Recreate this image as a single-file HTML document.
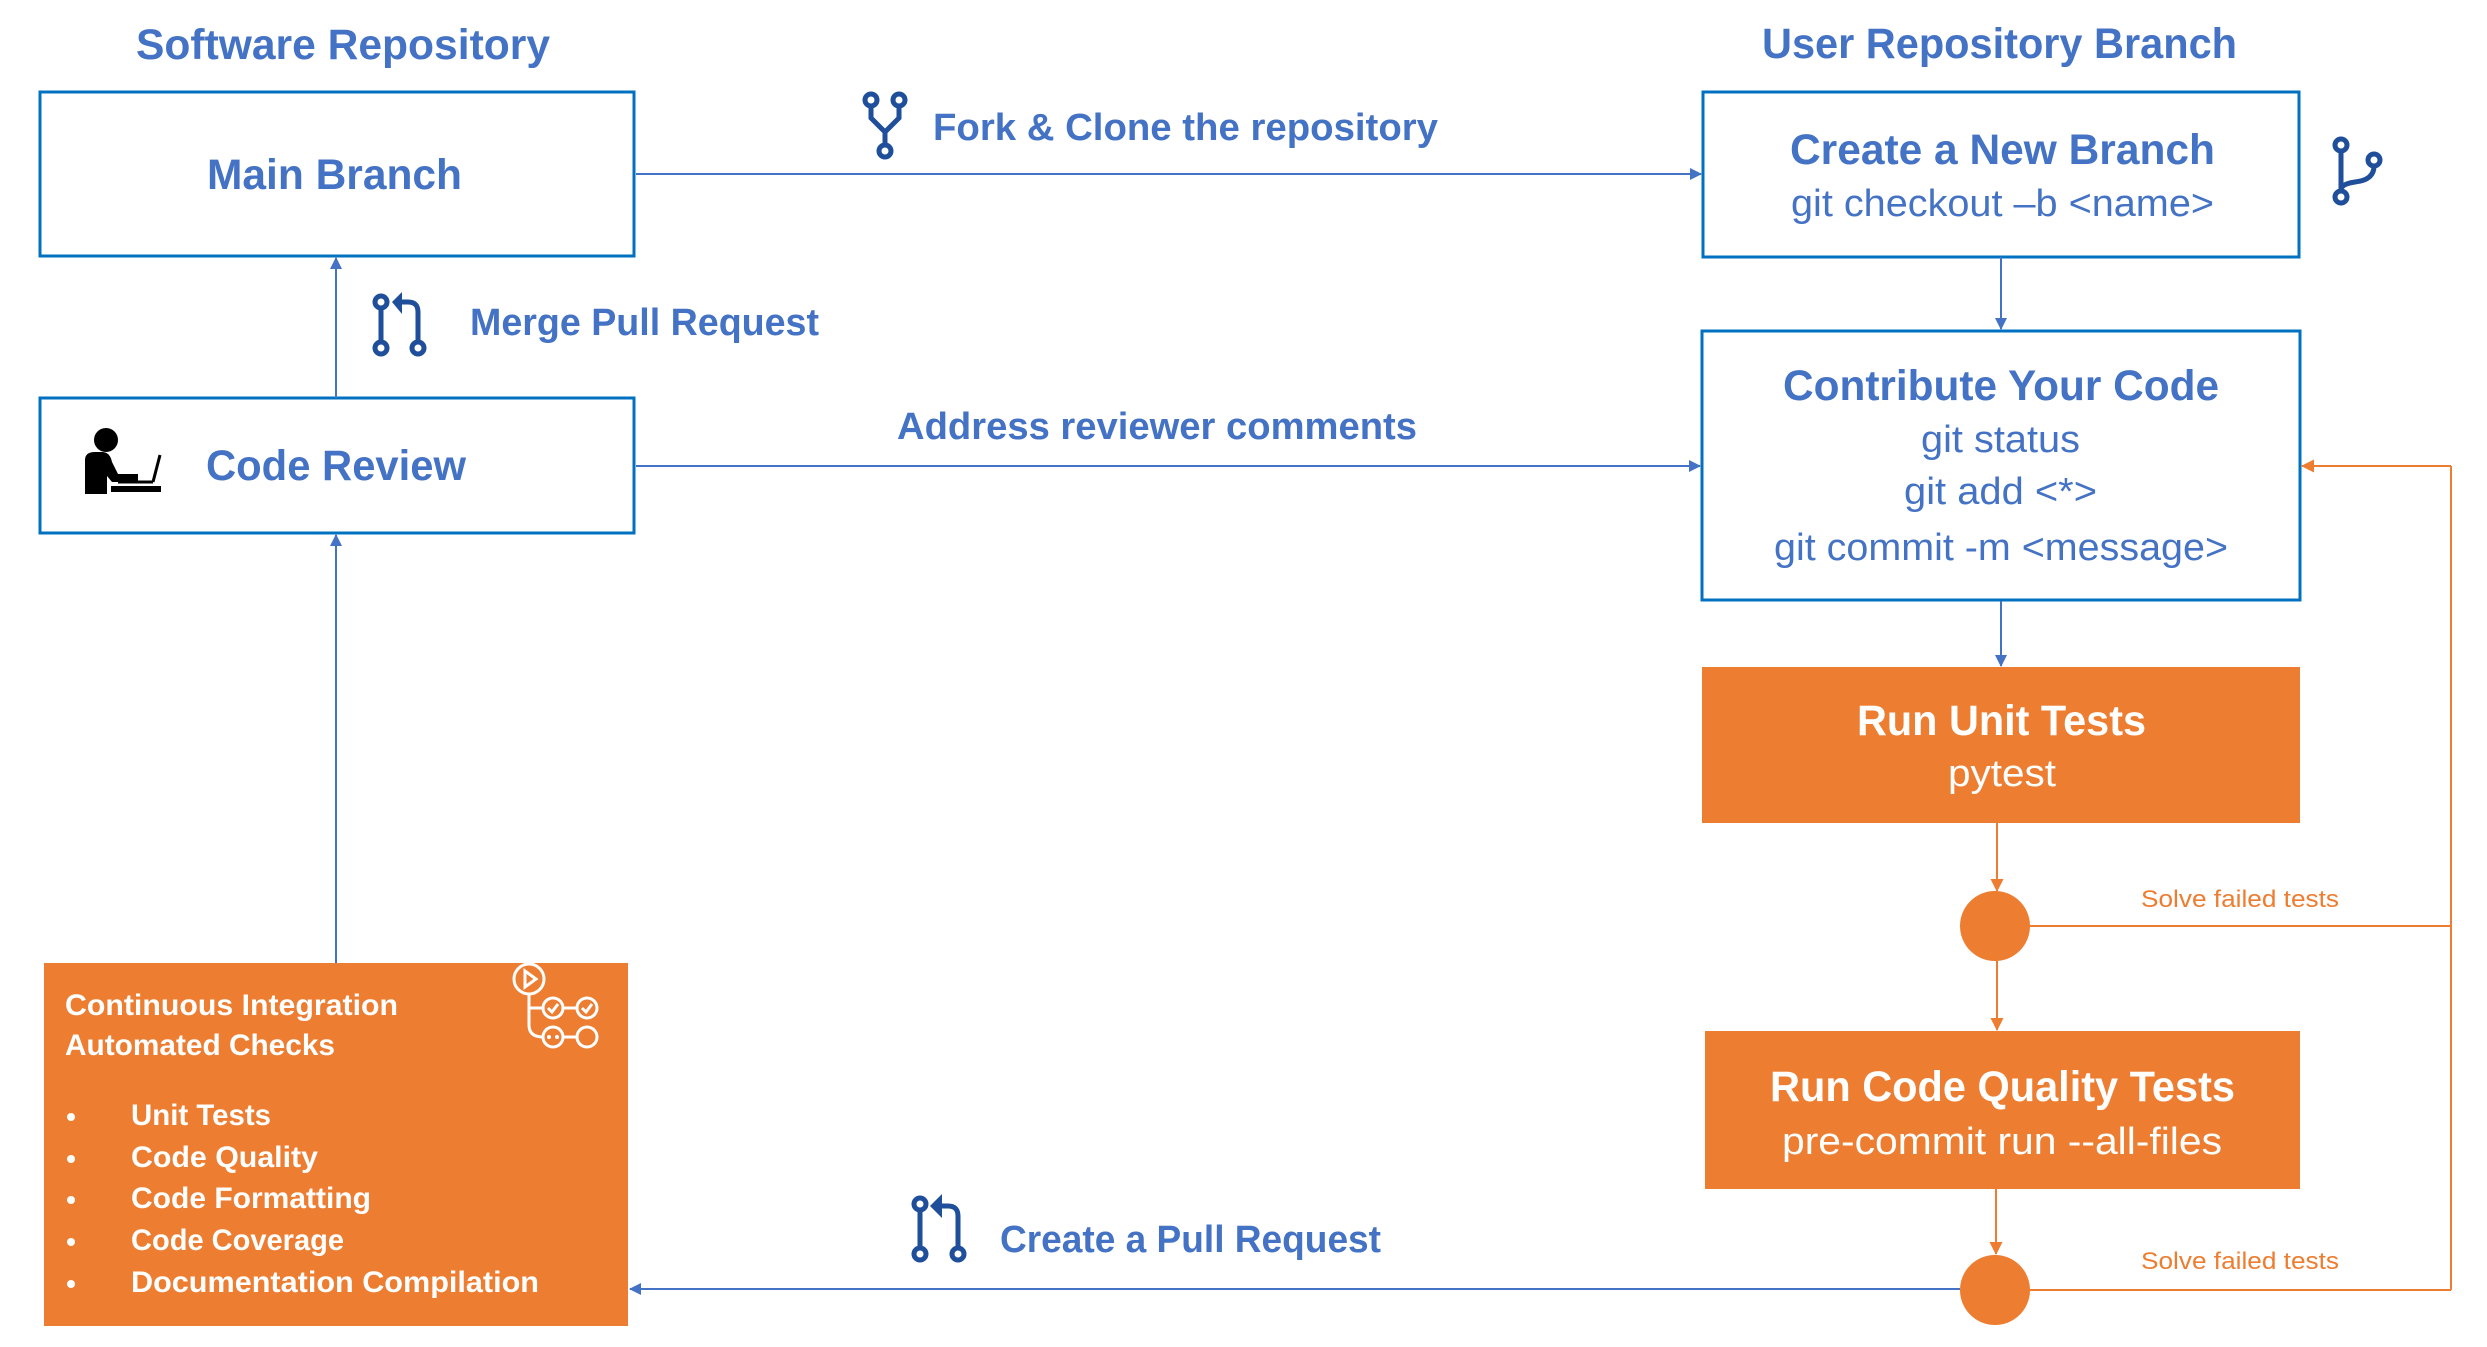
<!DOCTYPE html>
<html><head><meta charset="utf-8"><style>
html,body{margin:0;padding:0;background:#fff;}
svg{display:block;}
text{font-family:"Liberation Sans",sans-serif;}
</style></head><body>
<svg width="2487" height="1347" viewBox="0 0 2487 1347" xmlns="http://www.w3.org/2000/svg">
<defs>
<marker id="ab" markerWidth="12" markerHeight="12" refX="11" refY="6" orient="auto" markerUnits="userSpaceOnUse" viewBox="0 0 12 12"><path d="M0,0 L12,6 L0,12 z" fill="#4472C4"/></marker>
<marker id="ao" markerWidth="13" markerHeight="13" refX="12" refY="6.5" orient="auto" markerUnits="userSpaceOnUse" viewBox="0 0 13 13"><path d="M0,0 L13,6.5 L0,13 z" fill="#ED7D31"/></marker>
</defs>

<text x="136" y="59" font-size="43" font-weight="bold" fill="#4472C4" textLength="414" lengthAdjust="spacingAndGlyphs">Software Repository</text>
<text x="1762" y="58" font-size="43" font-weight="bold" fill="#4472C4" textLength="475" lengthAdjust="spacingAndGlyphs">User Repository Branch</text>

<rect x="40" y="92" width="594" height="164" fill="#fff" stroke="#0070C0" stroke-width="3"/>
<text x="207" y="189" font-size="43" font-weight="bold" fill="#4472C4" textLength="255" lengthAdjust="spacingAndGlyphs">Main Branch</text>

<rect x="40" y="398" width="594" height="135" fill="#fff" stroke="#0070C0" stroke-width="3"/>
<text x="206" y="480" font-size="43" font-weight="bold" fill="#4472C4" textLength="260" lengthAdjust="spacingAndGlyphs">Code Review</text>
<circle cx="106" cy="440" r="12" fill="#000"/>
<path d="M85,460 Q85,452 95,452 L102,452 Q110,452 112,462 L118,474 L138,474 L138,482 L112,482 L107,476 L107,494 L85,494 Z" fill="#000"/>
<path d="M153,482 L160,455" stroke="#000" stroke-width="3"/>
<rect x="111" y="486" width="50" height="6" fill="#000"/>
<path d="M118,482 L153,482" stroke="#000" stroke-width="3"/>

<rect x="44" y="963" width="584" height="363" fill="#ED7D31"/>
<g fill="#fff" font-weight="bold" font-size="30">
<text x="65" y="1015" textLength="333" lengthAdjust="spacingAndGlyphs">Continuous Integration</text>
<text x="65" y="1055" textLength="270" lengthAdjust="spacingAndGlyphs">Automated Checks</text>
<text x="131" y="1125" textLength="140" lengthAdjust="spacingAndGlyphs">Unit Tests</text>
<text x="131" y="1167" textLength="187" lengthAdjust="spacingAndGlyphs">Code Quality</text>
<text x="131" y="1208" textLength="240" lengthAdjust="spacingAndGlyphs">Code Formatting</text>
<text x="131" y="1250" textLength="213" lengthAdjust="spacingAndGlyphs">Code Coverage</text>
<text x="131" y="1292" textLength="408" lengthAdjust="spacingAndGlyphs">Documentation Compilation</text>
</g>
<g fill="#fff"><circle cx="71" cy="1117" r="4"/><circle cx="71" cy="1159" r="4"/><circle cx="71" cy="1200" r="4"/><circle cx="71" cy="1242" r="4"/><circle cx="71" cy="1284" r="4"/></g>
<g fill="none" stroke="#fff" stroke-width="3">
<circle cx="529" cy="979" r="15"/>
<path d="M525,971 L536,979 L525,987 Z"/>
<circle cx="553" cy="1008" r="10"/><circle cx="587" cy="1008" r="10"/>
<circle cx="553" cy="1037" r="10"/><circle cx="587" cy="1037" r="10"/>
<path d="M563,1008 L577,1008 M563,1037 L577,1037"/>
<path d="M529,994 L529,1025 Q529,1037 543,1037 M529,1008 L543,1008"/>
<path d="M548,1008 L552,1012 L558,1004 M582,1008 L586,1012 L592,1004"/>
</g>
<circle cx="549" cy="1037" r="2" fill="#fff"/><circle cx="557" cy="1037" r="2" fill="#fff"/>

<line x1="336" y1="963" x2="336" y2="535" stroke="#4472C4" stroke-width="2" marker-end="url(#ab)"/>
<line x1="336" y1="398" x2="336" y2="258" stroke="#4472C4" stroke-width="2" marker-end="url(#ab)"/>

<g stroke="#1F4E9A" stroke-width="5" fill="none">
<circle cx="381" cy="302" r="6"/><circle cx="381" cy="348" r="6"/><circle cx="418" cy="348" r="6"/>
<path d="M381,308 L381,342 M418,342 L418,312 Q418,302 408,302 L402,302"/>
</g>
<path d="M392,302 L402,292 L402,314 Z" fill="#1F4E9A"/>
<text x="470" y="335" font-size="38" font-weight="bold" fill="#4472C4" textLength="349" lengthAdjust="spacingAndGlyphs">Merge Pull Request</text>

<line x1="636" y1="174" x2="1701" y2="174" stroke="#4472C4" stroke-width="2" marker-end="url(#ab)"/>
<g stroke="#1F4E9A" stroke-width="5" fill="none">
<circle cx="871" cy="100" r="6"/><circle cx="899" cy="100" r="6"/><circle cx="885" cy="151" r="6"/>
<path d="M871,106 L871,118 L885,132 L899,118 L899,106 M885,132 L885,145"/>
</g>
<text x="933" y="140" font-size="38" font-weight="bold" fill="#4472C4" textLength="505" lengthAdjust="spacingAndGlyphs">Fork &amp; Clone the repository</text>

<line x1="636" y1="466" x2="1700" y2="466" stroke="#4472C4" stroke-width="2" marker-end="url(#ab)"/>
<text x="897" y="439" font-size="38" font-weight="bold" fill="#4472C4" textLength="520" lengthAdjust="spacingAndGlyphs">Address reviewer comments</text>

<rect x="1703" y="92" width="596" height="165" fill="#fff" stroke="#0070C0" stroke-width="3"/>
<text x="1790" y="164" font-size="43" font-weight="bold" fill="#4472C4" textLength="425" lengthAdjust="spacingAndGlyphs">Create a New Branch</text>
<text x="1791" y="216" font-size="38" fill="#4472C4" textLength="423" lengthAdjust="spacingAndGlyphs">git checkout –b &lt;name&gt;</text>
<g stroke="#1F4E9A" stroke-width="5" fill="none">
<circle cx="2341" cy="145" r="6"/><circle cx="2374" cy="160" r="6"/><circle cx="2341" cy="197" r="6"/>
<path d="M2341,151 L2341,191 M2374,166 Q2374,180 2355,182 Q2341,184 2341,190"/>
</g>
<line x1="2001" y1="257" x2="2001" y2="329" stroke="#4472C4" stroke-width="2" marker-end="url(#ab)"/>

<rect x="1702" y="331" width="598" height="269" fill="#fff" stroke="#0070C0" stroke-width="3"/>
<text x="1783" y="400" font-size="43" font-weight="bold" fill="#4472C4" textLength="436" lengthAdjust="spacingAndGlyphs">Contribute Your Code</text>
<text x="1921" y="452" font-size="38" fill="#4472C4" textLength="159" lengthAdjust="spacingAndGlyphs">git status</text>
<text x="1904" y="504" font-size="38" fill="#4472C4" textLength="193" lengthAdjust="spacingAndGlyphs">git add &lt;*&gt;</text>
<text x="1774" y="560" font-size="38" fill="#4472C4" textLength="454" lengthAdjust="spacingAndGlyphs">git commit -m &lt;message&gt;</text>
<line x1="2001" y1="601" x2="2001" y2="666" stroke="#4472C4" stroke-width="2" marker-end="url(#ab)"/>

<rect x="1702" y="667" width="598" height="156" fill="#ED7D31"/>
<text x="1857" y="735" font-size="43" font-weight="bold" fill="#fff" textLength="289" lengthAdjust="spacingAndGlyphs">Run Unit Tests</text>
<text x="1948" y="786" font-size="38" fill="#fff" textLength="108" lengthAdjust="spacingAndGlyphs">pytest</text>
<line x1="1997" y1="823" x2="1997" y2="891" stroke="#ED7D31" stroke-width="2" marker-end="url(#ao)"/>
<circle cx="1995" cy="926" r="35" fill="#ED7D31"/>
<text x="2141" y="907" font-size="24" fill="#ED7D31" textLength="198" lengthAdjust="spacingAndGlyphs">Solve failed tests</text>
<line x1="2030" y1="926" x2="2451" y2="926" stroke="#ED7D31" stroke-width="2"/>
<line x1="1997" y1="961" x2="1997" y2="1030" stroke="#ED7D31" stroke-width="2" marker-end="url(#ao)"/>

<rect x="1705" y="1031" width="595" height="158" fill="#ED7D31"/>
<text x="1770" y="1101" font-size="43" font-weight="bold" fill="#fff" textLength="465" lengthAdjust="spacingAndGlyphs">Run Code Quality Tests</text>
<text x="1782" y="1154" font-size="38" fill="#fff" textLength="440" lengthAdjust="spacingAndGlyphs">pre-commit run --all-files</text>
<line x1="1996" y1="1189" x2="1996" y2="1254" stroke="#ED7D31" stroke-width="2" marker-end="url(#ao)"/>
<circle cx="1995" cy="1290" r="35" fill="#ED7D31"/>
<text x="2141" y="1269" font-size="24" fill="#ED7D31" textLength="198" lengthAdjust="spacingAndGlyphs">Solve failed tests</text>
<line x1="2030" y1="1290" x2="2451" y2="1290" stroke="#ED7D31" stroke-width="2"/>
<line x1="2451" y1="1290" x2="2451" y2="466" stroke="#ED7D31" stroke-width="2"/>
<line x1="2451" y1="466" x2="2302" y2="466" stroke="#ED7D31" stroke-width="2" marker-end="url(#ao)"/>

<line x1="1960" y1="1289" x2="630" y2="1289" stroke="#4472C4" stroke-width="2" marker-end="url(#ab)"/>
<g stroke="#1F4E9A" stroke-width="5" fill="none">
<circle cx="920" cy="1204" r="6"/><circle cx="920" cy="1254" r="6"/><circle cx="958" cy="1254" r="6"/>
<path d="M920,1210 L920,1248 M958,1248 L958,1216 Q958,1206 948,1206 L942,1206"/>
</g>
<path d="M930,1206 L942,1194 L942,1218 Z" fill="#1F4E9A"/>
<text x="1000" y="1252" font-size="38" font-weight="bold" fill="#4472C4" textLength="381" lengthAdjust="spacingAndGlyphs">Create a Pull Request</text>
</svg>
</body></html>
